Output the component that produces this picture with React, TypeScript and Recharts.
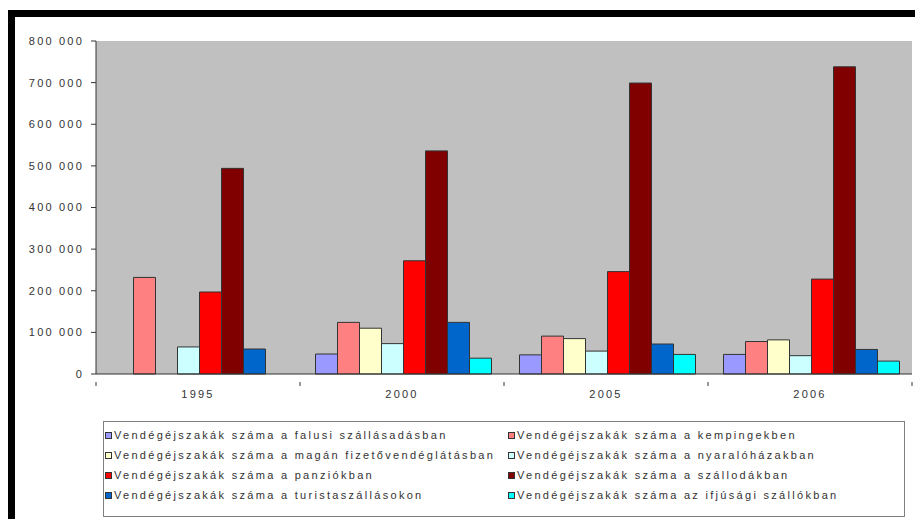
import React from 'react';
import { BarChart, Bar, XAxis, YAxis, CartesianGrid, Legend } from 'recharts';

const years = ['1995', '2000', '2005', '2006'];
const falusi = [null, 48000, 46000, 47000];
const kemping = [232000, 124000, 91000, 78000];
const magan = [null, 110000, 85000, 82000];
const nyaralo = [65000, 73000, 55000, 44000];
const panzio = [197000, 272000, 246000, 228000];
const szalloda = [494000, 536000, 699000, 738000];
const turista = [60000, 124000, 72000, 59000];
const ifjusagi = [null, 38000, 47000, 31000];

const yTicks = [0, 100000, 200000, 300000, 400000, 500000, 600000, 700000, 800000];

const seriesKeys = ['falusi', 'kemping', 'magan', 'nyaralo', 'panzio', 'szalloda', 'turista', 'ifjusagi'];
const seriesNames = [
  'Vendégéjszakák száma a falusi szállásadásban',
  'Vendégéjszakák száma a kempingekben',
  'Vendégéjszakák száma a magán fizetővendéglátásban',
  'Vendégéjszakák száma a nyaralóházakban',
  'Vendégéjszakák száma a panziókban',
  'Vendégéjszakák száma a szállodákban',
  'Vendégéjszakák száma a turistaszállásokon',
  'Vendégéjszakák száma az ifjúsági szállókban',
];
const seriesColors = ['#9999FF', '#FF8080', '#FFFFCC', '#CCFFFF', '#FF0000', '#800000', '#0066CC', '#00FFFF'];
const seriesValues = [falusi, kemping, magan, nyaralo, panzio, szalloda, turista, ifjusagi];

const data = years.map((y, i) => {
  const row: Record<string, any> = { year: y };
  seriesKeys.forEach((k, j) => {
    row[k] = seriesValues[j][i];
  });
  return row;
});

const FONT = '"Liberation Sans", Arial, sans-serif';
const fmt = (v: number) => String(v).replace(/\B(?=(\d{3})+(?!\d))/g, ' ');

const XTick = (props: any) => {
  const { x, y, payload, index } = props;
  const off = payload && payload.offset ? payload.offset : 0;
  const isLast = index === years.length - 1;
  return (
    <g>
      {off ? <line x1={x - off} x2={x - off} y1={y} y2={y + 4} stroke="#333" /> : null}
      {off && isLast ? <line x1={x + off} x2={x + off} y1={y} y2={y + 4} stroke="#333" /> : null}
      <text x={x} y={y + 16} textAnchor="middle" fill="#333" fontSize={11} fontFamily={FONT} style={{ letterSpacing: '2.2px' }}>
        {payload.value}
      </text>
    </g>
  );
};

const LegendBox = () => (
  <div
    style={{
      width: 802,
      height: 96,
      border: '1px solid #808080',
      boxSizing: 'border-box',
      background: '#fff',
      position: 'relative',
      fontFamily: FONT,
      fontSize: 11,
      color: '#333',
      letterSpacing: '2.3px',
    }}
  >
    {seriesNames.map((n, i) => (
      <div
        key={n}
        style={{
          position: 'absolute',
          left: i % 2 === 0 ? 1 : 404,
          top: 3 + Math.floor(i / 2) * 20,
          height: 20,
          display: 'flex',
          alignItems: 'center',
          whiteSpace: 'nowrap',
        }}
      >
        <span
          style={{
            display: 'inline-block',
            width: 5,
            height: 5,
            background: seriesColors[i],
            border: '1px solid #333',
            marginRight: 2,
          }}
        />
        <span>{n}</span>
      </div>
    ))}
  </div>
);

export default function App() {
  return (
    <div style={{ position: 'absolute', left: 0, top: 0, width: 915, height: 519, background: '#fff', overflow: 'hidden' }}>
      <div style={{ position: 'absolute', left: 8, top: 10, width: 907, height: 7, background: '#000' }} />
      <div style={{ position: 'absolute', left: 8, top: 10, width: 7, height: 509, background: '#000' }} />
      <div style={{ position: 'absolute', left: 0, top: 0 }}>
        <BarChart
          width={915}
          height={519}
          data={data}
          margin={{ top: 41, right: 3, left: 0, bottom: 115 }}
          barCategoryGap="7.6%"
          barGap={0}
        >
          <CartesianGrid fill="#C0C0C0" horizontal={false} vertical={false} />
          <XAxis
            dataKey="year"
            height={30}
            axisLine={{ stroke: '#333' }}
            tickLine={false}
            tick={<XTick />}
            interval={0}
          />
          <XAxis xAxisId="top" orientation="top" dataKey="year" height={0} tick={false} tickLine={false} axisLine={{ stroke: '#999' }} />
          <YAxis
            width={96}
            domain={[0, 800000]}
            ticks={yTicks}
            tickFormatter={fmt}
            axisLine={{ stroke: '#333' }}
            tickLine={{ stroke: '#333' }}
            tickSize={5}
            tickMargin={7}
            tick={{ fill: '#333', fontSize: 11, fontFamily: FONT, style: { letterSpacing: '2.2px' } }}
            interval={0}
          />
          <YAxis yAxisId="right" orientation="right" width={0} tick={false} tickLine={false} axisLine={{ stroke: '#999' }} domain={[0, 800000]} />
          {seriesKeys.map((k, i) => (
            <Bar
              key={k}
              dataKey={k}
              name={seriesNames[i]}
              fill={seriesColors[i]}
              stroke="#333"
              strokeWidth={1}
              isAnimationActive={false}
            />
          ))}
          <Legend
            layout="vertical"
            verticalAlign="middle"
            align="center"
            content={<LegendBox />}
            wrapperStyle={{ left: 103, top: 421, width: 802, height: 96 }}
          />
        </BarChart>
      </div>
    </div>
  );
}
